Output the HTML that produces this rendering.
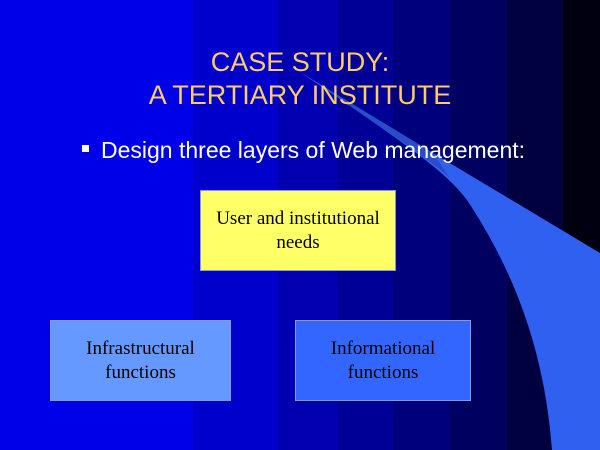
<!DOCTYPE html>
<html><head><style>
body{margin:0;width:600px;height:450px;overflow:hidden;position:relative;background:#0000e8;font-family:"Liberation Sans",sans-serif}
.s{position:absolute;top:0;height:450px}
.t{position:absolute;left:0;width:600px;text-align:center;color:#ffcc66;font-size:27px;line-height:33px;top:46px}
.b{position:absolute;left:82px;top:137px;color:#fff;font-size:23px;white-space:nowrap}
.b i{display:inline-block;width:7px;height:7px;background:#fff;margin-right:12px;vertical-align:middle;position:relative;top:-3px}
.box{position:absolute;display:flex;align-items:center;justify-content:center;text-align:center;font-family:"Liberation Serif",serif;font-size:19px;line-height:24px;color:#000;border:1px solid #8899dd;box-sizing:border-box}
</style></head><body>
<div class="s" style="left:193px;width:85px;background:#0000cc"></div>
<div class="s" style="left:278px;width:60px;background:#0000b0"></div>
<div class="s" style="left:338px;width:55px;background:#000096"></div>
<div class="s" style="left:393px;width:57px;background:#00007c"></div>
<div class="s" style="left:450px;width:57px;background:#000060"></div>
<div class="s" style="left:507px;width:56px;background:#000040"></div>
<div class="s" style="left:563px;width:37px;background:#000010"></div>
<svg style="position:absolute;left:0;top:0" width="600" height="450">
<path d="M300,72 L433,153 L600,253 L600,450 L552,450 C545,360 520,280 467,200 C445,170 400,140 300,72Z" fill="#3060f0"/>
<path d="M300,72 L433,153 L450,178 C430,160 400,140 300,72Z" fill="#2a4cc8"/>
</svg>
<div class="t">CASE STUDY:<br>A TERTIARY INSTITUTE</div>
<div class="b"><i></i>Design three layers of Web management:</div>
<div class="box" style="left:200px;top:190px;width:196px;height:81px;background:#ffff66">User and institutional<br>needs</div>
<div class="box" style="left:50px;top:320px;width:181px;height:81px;background:#6699ff">Infrastructural<br>functions</div>
<div class="box" style="left:295px;top:320px;width:176px;height:81px;background:#3366ff">Informational<br>functions</div>
</body></html>
